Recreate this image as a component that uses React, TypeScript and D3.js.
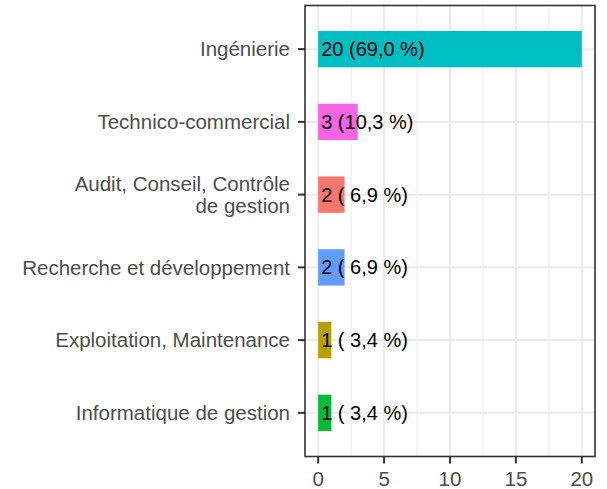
import React, { useEffect, useRef } from 'react';
import * as d3 from 'd3';

// Categories from bottom to top
const categories = [
    'Informatique de gestion',
    'Exploitation, Maintenance',
    'Recherche et développement',
    'Audit, Conseil, Contrôle\nde gestion',
    'Technico-commercial',
    'Ingénierie',
];
const counts = [1, 1, 2, 2, 3, 20];
const barColors = ['#00BA38', '#B79F00', '#619CFF', '#F8766D', '#F564E3', '#00BFC4'];
const barLabels = ['1 ( 3,4 %)', '1 ( 3,4 %)', '2 ( 6,9 %)', '2 ( 6,9 %)', '3 (10,3 %)', '20 (69,0 %)'];
const xTicks = [0, 5, 10, 15, 20];
const xMinorTicks = [2.5, 7.5, 12.5, 17.5];

const W = 607;
const H = 489;

const App = () => {
    const svgRef = useRef<SVGSVGElement>(null);

    useEffect(() => {
        const svg = d3.select(svgRef.current);
        svg.selectAll('*').remove();

        // Panel bounds
        const left = 305, right = 595, top = 5.5, bottom = 456.5;
        const font = 'Liberation Sans, Arial, Helvetica, sans-serif';

        const x = d3.scaleLinear().domain([-1, 21]).range([left, right]);
        // discrete scale: positions 1..n with 0.6 expansion
        const n = categories.length;
        const y = d3.scaleLinear().domain([0.4, n + 0.6]).range([bottom, top]);
        const bandPx = Math.abs(y(2) - y(1));
        const barH = bandPx * 0.5;

        svg.append('rect')
            .attr('x', left).attr('y', top)
            .attr('width', right - left).attr('height', bottom - top)
            .style('fill', '#fff');

        // Minor grid
        xMinorTicks.forEach(t => {
            svg.append('line')
                .attr('x1', x(t)).attr('x2', x(t))
                .attr('y1', top).attr('y2', bottom)
                .style('stroke', '#EBEBEB').style('stroke-width', 1);
        });
        // Major grid
        xTicks.forEach(t => {
            svg.append('line')
                .attr('x1', x(t)).attr('x2', x(t))
                .attr('y1', top).attr('y2', bottom)
                .style('stroke', '#EBEBEB').style('stroke-width', 2);
        });
        categories.forEach((c, i) => {
            svg.append('line')
                .attr('x1', left).attr('x2', right)
                .attr('y1', y(i + 1)).attr('y2', y(i + 1))
                .style('stroke', '#EBEBEB').style('stroke-width', 2);
        });

        // Bars
        svg.selectAll('.bar')
            .data(counts)
            .enter()
            .append('rect')
            .attr('class', 'bar')
            .attr('x', x(0))
            .attr('y', (d, i) => y(i + 1) - barH / 2)
            .attr('width', d => x(d) - x(0))
            .attr('height', barH)
            .style('fill', (d, i) => barColors[i]);

        // Bar labels
        svg.selectAll('.lab')
            .data(barLabels)
            .enter()
            .append('text')
            .attr('class', 'lab')
            .attr('x', x(0) + 3)
            .attr('y', (d, i) => y(i + 1))
            .attr('dy', '0.35em')
            .attr('xml:space', 'preserve')
            .style('white-space', 'pre')
            .style('font-family', font)
            .style('font-size', '20px')
            .style('fill', '#000')
            .text(d => d);

        // Panel border
        svg.append('rect')
            .attr('x', left).attr('y', top)
            .attr('width', right - left).attr('height', bottom - top)
            .style('fill', 'none')
            .style('stroke', '#333333')
            .style('stroke-width', 1.6);

        // Y axis ticks and labels
        categories.forEach((c, i) => {
            const cy = y(i + 1);
            svg.append('line')
                .attr('x1', left - 7).attr('x2', left)
                .attr('y1', cy).attr('y2', cy)
                .style('stroke', '#333333').style('stroke-width', 2);
            const lines = c.split('\n');
            const lh = 22.6;
            const t = svg.append('text')
                .attr('text-anchor', 'end')
                .style('font-family', font)
                .style('font-size', '20.5px')
                .style('fill', '#4D4D4D');
            lines.forEach((ln, k) => {
                t.append('tspan')
                    .attr('x', 290)
                    .attr('y', cy + (k - (lines.length - 1) / 2) * lh)
                    .attr('dy', '0.35em')
                    .text(ln);
            });
        });

        // X axis ticks and labels
        xTicks.forEach(t => {
            svg.append('line')
                .attr('x1', x(t)).attr('x2', x(t))
                .attr('y1', bottom).attr('y2', bottom + 7)
                .style('stroke', '#333333').style('stroke-width', 2);
            svg.append('text')
                .attr('x', x(t))
                .attr('y', 486)
                .attr('text-anchor', 'middle')
                .style('font-family', font)
                .style('font-size', '20.5px')
                .style('fill', '#4D4D4D')
                .text(t);
        });
    }, []);

    return (
        <div style={{ width: W, height: H }}>
            <style>{'body{margin:0}'}</style>
            <svg ref={svgRef} width={W} height={H} style={{ display: 'block', background: '#fff' }}></svg>
        </div>
    );
};

export default App;
